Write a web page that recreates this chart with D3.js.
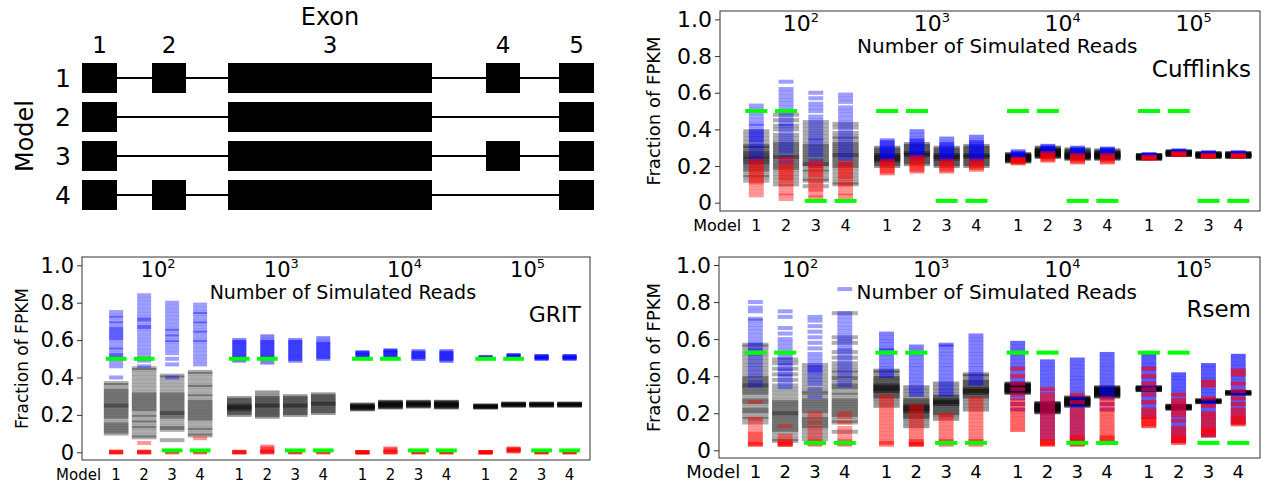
<!DOCTYPE html>
<html>
<head>
<meta charset="utf-8">
<script src="https://cdn.jsdelivr.net/npm/d3@7"></script>
<style>
body { margin: 0; background: #fff; }
text { font-family: "DejaVu Sans", sans-serif; fill: #000; }
</style>
</head>
<body>
<div id="chart"></div>
<script>
//categories
var decades = ['2', '3', '4', '5'];
var models = ['1', '2', '3', '4'];
var yTicks = [0, 0.2, 0.4, 0.6, 0.8, 1.0];

//gene diagram
var exonNames = ['1', '2', '3', '4', '5'];
var exonSpans = [[0, 35], [70, 104], [146, 350], [404, 438], [477, 512]];
var modelExons = [[0, 1, 2, 3, 4], [0, 2, 4], [0, 2, 3, 4], [0, 1, 2, 4]];

//Cufflinks, one list per column (10^2 m1..m4, 10^3 m1..m4, ...)
var cuffTruth = [0.5, 0.5, 0.01, 0.01, 0.5, 0.5, 0.01, 0.01, 0.5, 0.5, 0.01, 0.01, 0.5, 0.5, 0.01, 0.01];
var cuffBlack = [
    [0.12,0.14,0.15,0.17,0.18,0.19,0.2,0.21,0.22,0.22,0.23,0.24,0.24,0.25,0.25,0.26,0.27,0.27,0.28,0.29,0.3,0.31,0.31,0.33,0.35,0.37,0.39],
    [0.1,0.12,0.14,0.16,0.18,0.19,0.2,0.21,0.22,0.23,0.24,0.25,0.25,0.26,0.27,0.28,0.29,0.3,0.31,0.32,0.33,0.35,0.37,0.4,0.42,0.45,0.48],
    [0.09,0.12,0.13,0.15,0.17,0.18,0.2,0.21,0.21,0.22,0.23,0.24,0.25,0.26,0.27,0.28,0.29,0.3,0.31,0.32,0.34,0.36,0.38,0.4,0.42,0.44],
    [0.1,0.11,0.13,0.15,0.17,0.19,0.2,0.21,0.22,0.23,0.24,0.25,0.26,0.26,0.27,0.28,0.29,0.3,0.31,0.32,0.33,0.35,0.36,0.38,0.41,0.43],
    [0.2,0.21,0.22,0.23,0.23,0.24,0.24,0.25,0.25,0.26,0.26,0.27,0.28,0.29,0.3],
    [0.21,0.22,0.23,0.24,0.25,0.26,0.26,0.27,0.27,0.28,0.29,0.3,0.31,0.32],
    [0.2,0.21,0.22,0.23,0.24,0.24,0.25,0.25,0.26,0.26,0.27,0.28,0.29,0.3],
    [0.2,0.21,0.22,0.23,0.24,0.25,0.25,0.26,0.26,0.27,0.28,0.29,0.3,0.31],
    [0.225,0.23,0.235,0.24,0.245,0.25,0.255,0.26,0.265],
    [0.25,0.255,0.26,0.265,0.27,0.275,0.28,0.285,0.29,0.3],
    [0.24,0.245,0.25,0.255,0.26,0.265,0.27,0.28,0.29],
    [0.24,0.245,0.25,0.255,0.26,0.265,0.27,0.275,0.285],
    [0.24,0.245,0.25,0.255,0.26],
    [0.26,0.265,0.27,0.275,0.28],
    [0.25,0.255,0.26,0.265,0.27],
    [0.25,0.255,0.26,0.265,0.27]
];
var cuffBlue = [
    [0.22,0.24,0.26,0.28,0.3,0.31,0.33,0.34,0.35,0.36,0.37,0.38,0.39,0.4,0.42,0.43,0.45,0.47,0.49,0.51,0.53],
    [0.22,0.25,0.28,0.3,0.32,0.34,0.36,0.38,0.4,0.42,0.43,0.45,0.47,0.49,0.5,0.52,0.54,0.56,0.58,0.6,0.62,0.66],
    [0.2,0.23,0.26,0.28,0.3,0.32,0.34,0.35,0.37,0.39,0.41,0.43,0.45,0.47,0.5,0.52,0.54,0.57,0.6],
    [0.21,0.24,0.26,0.28,0.3,0.32,0.34,0.36,0.38,0.4,0.42,0.44,0.46,0.48,0.5,0.52,0.55,0.57,0.59],
    [0.23,0.24,0.25,0.26,0.27,0.28,0.29,0.3,0.31,0.32,0.33,0.34],
    [0.24,0.25,0.26,0.27,0.28,0.29,0.3,0.31,0.32,0.33,0.34,0.35,0.37,0.39],
    [0.23,0.24,0.25,0.26,0.27,0.28,0.29,0.3,0.31,0.32,0.33,0.35],
    [0.23,0.24,0.25,0.26,0.27,0.28,0.29,0.3,0.31,0.32,0.33,0.34,0.36],
    [0.24,0.25,0.26,0.27,0.28],
    [0.27,0.28,0.29,0.3,0.31],
    [0.25,0.26,0.27,0.28,0.29,0.3],
    [0.25,0.26,0.27,0.28,0.29,0.295],
    [0.25,0.255,0.26,0.265],
    [0.27,0.275,0.28,0.285],
    [0.26,0.265,0.27,0.275],
    [0.26,0.265,0.27,0.275]
];
var cuffRed = [
    [0.04,0.06,0.08,0.1,0.11,0.12,0.13,0.14,0.15,0.16,0.17,0.18,0.19,0.2,0.21,0.22,0.23],
    [0.02,0.04,0.05,0.07,0.09,0.1,0.12,0.13,0.14,0.15,0.16,0.17,0.18,0.19,0.2,0.21,0.23,0.24],
    [0.03,0.04,0.06,0.07,0.08,0.1,0.11,0.12,0.14,0.15,0.16,0.17,0.18,0.19,0.2,0.21,0.22],
    [0.02,0.04,0.05,0.07,0.09,0.1,0.11,0.13,0.14,0.15,0.16,0.17,0.18,0.19,0.2,0.21,0.22],
    [0.16,0.17,0.18,0.19,0.2,0.21,0.22,0.23],
    [0.17,0.18,0.19,0.2,0.21,0.22,0.23,0.24,0.25],
    [0.17,0.18,0.19,0.2,0.21,0.22,0.23],
    [0.18,0.19,0.2,0.21,0.22,0.23],
    [0.215,0.22,0.23,0.235,0.24],
    [0.23,0.24,0.25,0.26,0.27],
    [0.22,0.23,0.24,0.25,0.26],
    [0.22,0.23,0.24,0.25,0.26],
    [0.24,0.245,0.25],
    [0.26,0.265,0.27],
    [0.25,0.255,0.26],
    [0.25,0.255,0.26]
];

//GRIT
var gritTruth = [0.5, 0.5, 0.01, 0.01, 0.5, 0.5, 0.01, 0.01, 0.5, 0.5, 0.01, 0.01, 0.5, 0.5, 0.01, 0.01];
var gritBlack = [
    [0.1,0.11,0.12,0.13,0.14,0.15,0.16,0.18,0.19,0.2,0.21,0.22,0.23,0.24,0.25,0.25,0.26,0.27,0.28,0.29,0.3,0.31,0.32,0.33,0.34,0.36,0.37],
    [0.08,0.09,0.11,0.13,0.14,0.16,0.17,0.19,0.2,0.22,0.23,0.24,0.25,0.26,0.27,0.28,0.29,0.3,0.31,0.32,0.34,0.36,0.38,0.4,0.42,0.44,0.45],
    [0.065,0.12,0.13,0.14,0.16,0.18,0.19,0.2,0.21,0.21,0.22,0.23,0.24,0.25,0.26,0.27,0.28,0.29,0.3,0.31,0.32,0.34,0.36,0.38,0.4,0.41],
    [0.09,0.1,0.12,0.13,0.15,0.17,0.18,0.19,0.2,0.21,0.22,0.23,0.24,0.25,0.26,0.27,0.28,0.3,0.31,0.33,0.35,0.36,0.38,0.4,0.42,0.43],
    [0.2,0.21,0.22,0.23,0.23,0.24,0.24,0.25,0.25,0.26,0.27,0.28,0.29],
    [0.19,0.2,0.21,0.22,0.23,0.24,0.25,0.25,0.26,0.27,0.28,0.29,0.3,0.32],
    [0.2,0.21,0.22,0.23,0.24,0.25,0.25,0.26,0.27,0.28,0.29,0.3],
    [0.21,0.22,0.23,0.24,0.25,0.26,0.26,0.27,0.28,0.29,0.3,0.31],
    [0.23,0.235,0.24,0.245,0.25,0.255],
    [0.24,0.245,0.25,0.255,0.26,0.265,0.27],
    [0.245,0.25,0.255,0.26,0.265,0.27],
    [0.24,0.245,0.25,0.255,0.26,0.265,0.27],
    [0.24,0.245,0.25],
    [0.25,0.255,0.26],
    [0.25,0.255,0.26],
    [0.25,0.255,0.26]
];
var gritBlue = [
    [0.4,0.46,0.48,0.5,0.51,0.52,0.53,0.55,0.56,0.58,0.6,0.61,0.62,0.63,0.64,0.65,0.66,0.67,0.69,0.7,0.72,0.73,0.75],
    [0.46,0.49,0.5,0.52,0.54,0.56,0.58,0.6,0.62,0.64,0.66,0.67,0.68,0.7,0.71,0.72,0.74,0.76,0.78,0.8,0.82,0.84],
    [0.4,0.47,0.5,0.53,0.55,0.57,0.59,0.6,0.62,0.63,0.65,0.66,0.68,0.7,0.72,0.74,0.76,0.78,0.8],
    [0.47,0.49,0.51,0.53,0.55,0.57,0.59,0.6,0.62,0.64,0.65,0.67,0.69,0.7,0.72,0.74,0.75,0.77,0.79],
    [0.49,0.5,0.51,0.52,0.53,0.54,0.55,0.56,0.57,0.58,0.59,0.6],
    [0.48,0.5,0.51,0.52,0.53,0.54,0.55,0.56,0.57,0.58,0.59,0.6,0.62],
    [0.49,0.5,0.51,0.52,0.53,0.54,0.55,0.56,0.57,0.58,0.59,0.6],
    [0.5,0.51,0.52,0.53,0.54,0.55,0.56,0.57,0.58,0.59,0.61],
    [0.51,0.52,0.53,0.535],
    [0.51,0.52,0.53,0.54,0.545],
    [0.5,0.51,0.52,0.53,0.54],
    [0.49,0.5,0.51,0.52,0.53,0.54],
    [0.505,0.51],
    [0.51,0.515,0.52],
    [0.5,0.505,0.51,0.515],
    [0.5,0.505,0.51,0.515]
];
//many runs sit exactly at zero
var gritRed = [
    [0, 0, 0, 0, 0.005], [0, 0, 0, 0, 0.005, 0.05], [0, 0, 0.005], [0, 0, 0.005, 0.075],
    [0, 0, 0, 0.003], [0, 0, 0.005, 0.01, 0.02, 0.03], [0, 0, 0.005], [0, 0, 0.005],
    [0, 0, 0, 0], [0, 0, 0.01, 0.02], [0, 0, 0.005], [0, 0, 0.005],
    [0, 0, 0, 0], [0.005, 0.01, 0.015, 0.02], [0, 0, 0.005], [0, 0, 0.005]
];

//Rsem
var rsemTruth = [0.527, 0.527, 0.04, 0.04, 0.527, 0.527, 0.04, 0.04, 0.527, 0.527, 0.04, 0.04, 0.527, 0.527, 0.04, 0.04];
var rsemBlack = [
    [0.15,0.17,0.18,0.2,0.21,0.22,0.23,0.25,0.26,0.27,0.28,0.3,0.31,0.32,0.33,0.34,0.35,0.35,0.36,0.37,0.38,0.39,0.4,0.42,0.44,0.46,0.48,0.5,0.52,0.54,0.56,0.57],
    [0.05,0.06,0.08,0.1,0.11,0.12,0.13,0.14,0.15,0.16,0.17,0.18,0.19,0.2,0.2,0.21,0.22,0.23,0.24,0.25,0.26,0.27,0.29,0.31,0.33,0.35,0.38,0.41,0.44,0.47,0.49],
    [0.06,0.08,0.1,0.12,0.13,0.14,0.15,0.16,0.17,0.18,0.2,0.21,0.22,0.23,0.24,0.25,0.26,0.27,0.28,0.3,0.31,0.32,0.34,0.36,0.38,0.4,0.42,0.44,0.46],
    [0.1,0.15,0.16,0.18,0.19,0.2,0.21,0.22,0.23,0.24,0.25,0.26,0.27,0.28,0.3,0.31,0.33,0.34,0.35,0.36,0.38,0.39,0.4,0.42,0.43,0.45,0.47,0.5,0.53,0.58,0.61,0.74],
    [0.24,0.26,0.28,0.29,0.3,0.31,0.32,0.32,0.33,0.33,0.34,0.34,0.35,0.35,0.36,0.37,0.38,0.39,0.4,0.42,0.43],
    [0.13,0.15,0.17,0.18,0.19,0.2,0.21,0.21,0.22,0.22,0.23,0.23,0.24,0.24,0.25,0.26,0.27,0.28,0.3,0.32,0.34],
    [0.17,0.19,0.2,0.21,0.22,0.23,0.24,0.25,0.25,0.26,0.26,0.27,0.27,0.28,0.29,0.3,0.32,0.34,0.36],
    [0.22,0.24,0.26,0.28,0.29,0.3,0.31,0.31,0.32,0.32,0.33,0.33,0.34,0.35,0.36,0.37,0.38,0.4,0.41],
    [0.31,0.315,0.32,0.325,0.33,0.335,0.34,0.345,0.35,0.355,0.36],
    [0.205,0.21,0.215,0.22,0.225,0.23,0.235,0.24,0.245,0.25,0.255],
    [0.24,0.245,0.25,0.255,0.26,0.265,0.27,0.275,0.28,0.285],
    [0.29,0.295,0.3,0.305,0.31,0.315,0.32,0.325,0.33,0.335,0.34],
    [0.325,0.33,0.335,0.34],
    [0.225,0.23,0.235,0.24],
    [0.26,0.265,0.27],
    [0.305,0.31,0.315]
];
var rsemBlue = [
    [0.35,0.37,0.4,0.42,0.44,0.46,0.48,0.5,0.52,0.54,0.55,0.57,0.58,0.6,0.62,0.64,0.66,0.68,0.7,0.71,0.75,0.77,0.8],
    [0.34,0.36,0.38,0.4,0.41,0.43,0.44,0.46,0.47,0.49,0.5,0.52,0.54,0.56,0.58,0.6,0.63,0.66,0.72,0.75],
    [0.29,0.33,0.36,0.38,0.4,0.42,0.43,0.44,0.45,0.46,0.48,0.5,0.52,0.55,0.58,0.61,0.64,0.67,0.7,0.72],
    [0.35,0.37,0.4,0.42,0.44,0.46,0.48,0.5,0.52,0.54,0.55,0.57,0.59,0.6,0.62,0.64,0.66,0.68,0.7,0.72,0.74,0.87],
    [0.4,0.42,0.44,0.46,0.48,0.5,0.52,0.54,0.55,0.57,0.59,0.61,0.63],
    [0.3,0.32,0.34,0.36,0.38,0.4,0.42,0.44,0.46,0.48,0.5,0.52,0.54,0.56],
    [0.3,0.32,0.34,0.36,0.38,0.4,0.42,0.44,0.46,0.48,0.5,0.52,0.54,0.56,0.57],
    [0.36,0.38,0.4,0.42,0.44,0.46,0.48,0.5,0.52,0.54,0.56,0.58,0.6,0.62],
    [0.22,0.25,0.28,0.3,0.33,0.36,0.38,0.4,0.42,0.44,0.46,0.48,0.5,0.52,0.54,0.56,0.58],
    [0.06,0.08,0.1,0.12,0.14,0.16,0.18,0.2,0.22,0.24,0.26,0.28,0.3,0.32,0.34,0.36,0.38,0.4,0.42,0.44,0.46,0.48],
    [0.05,0.07,0.09,0.11,0.13,0.15,0.17,0.19,0.21,0.23,0.25,0.27,0.29,0.31,0.33,0.35,0.37,0.39,0.41,0.43,0.45,0.47,0.49],
    [0.22,0.25,0.28,0.3,0.32,0.34,0.36,0.38,0.4,0.42,0.44,0.46,0.48,0.5,0.52],
    [0.18,0.2,0.22,0.24,0.26,0.28,0.3,0.32,0.34,0.36,0.38,0.4,0.42,0.44,0.46,0.48,0.5,0.52],
    [0.05,0.07,0.09,0.11,0.13,0.15,0.17,0.19,0.21,0.23,0.25,0.27,0.29,0.31,0.33,0.35,0.37,0.39,0.41],
    [0.08,0.1,0.12,0.14,0.16,0.18,0.2,0.22,0.24,0.26,0.28,0.3,0.32,0.34,0.36,0.38,0.4,0.42,0.44,0.46],
    [0.15,0.17,0.19,0.21,0.23,0.25,0.27,0.29,0.31,0.33,0.35,0.37,0.39,0.41,0.43,0.45,0.47,0.49,0.51]
];
var rsemRed = [
    [0.03,0.03,0.035,0.04,0.05,0.06,0.07,0.08,0.09,0.1,0.12,0.14,0.16,0.17,0.26],
    [0.03,0.03,0.03,0.035,0.04,0.04,0.05,0.06,0.08,0.13],
    [0.03,0.035,0.04,0.05,0.06,0.08,0.1,0.12,0.15,0.18,0.2],
    [0.03,0.035,0.04,0.05,0.06,0.08,0.1,0.12,0.15,0.18,0.2],
    [0.03,0.04,0.05,0.07,0.09,0.11,0.13,0.15,0.17,0.19,0.21,0.23,0.25,0.27,0.29],
    [0.03,0.03,0.035,0.04,0.05,0.06,0.08,0.1,0.12,0.14,0.16,0.18,0.2,0.22,0.24],
    [0.03,0.04,0.05,0.06,0.08,0.1,0.12,0.14,0.16,0.18,0.19],
    [0.03,0.04,0.05,0.06,0.08,0.1,0.12,0.14,0.16,0.18,0.2,0.22,0.24,0.26,0.28],
    [0.11,0.13,0.15,0.17,0.19,0.21,0.23,0.25,0.27,0.3,0.33,0.36,0.4,0.44],
    [0.03,0.035,0.04,0.05,0.06,0.08,0.1,0.12,0.14,0.16,0.18,0.2,0.22,0.24,0.26,0.28,0.3,0.33],
    [0.03,0.035,0.04,0.05,0.06,0.07,0.08,0.1,0.12,0.14,0.16,0.18,0.2,0.22,0.26,0.3],
    [0.04,0.05,0.06,0.07,0.08,0.1,0.12,0.14,0.16,0.18,0.2,0.22,0.24,0.26,0.28],
    [0.13,0.14,0.15,0.16,0.17,0.18,0.2,0.22,0.26,0.3,0.33,0.36,0.4,0.44],
    [0.04,0.05,0.06,0.07,0.08,0.1,0.12,0.16,0.19,0.21,0.23,0.25,0.27,0.3],
    [0.08,0.09,0.1,0.11,0.12,0.14,0.16,0.18,0.2,0.24,0.28,0.35,0.37],
    [0.14,0.15,0.16,0.17,0.18,0.2,0.22,0.25,0.28,0.32,0.36,0.41,0.43]
];

//Canvas
var width = 1265;
var height = 484;

var svg = d3
    .select('#chart')
    .append('svg')
    .attr('width', width)
    .attr('height', height);

svg.append('rect').attr('width', width).attr('height', height).attr('fill', '#fff');

//soften the dashes a little, like the rescaled original
var defs = svg.append('defs');
defs.append('filter')
    .attr('id', 'soft')
    .attr('x', '-5%').attr('y', '-5%').attr('width', '110%').attr('height', '110%')
    .append('feGaussianBlur')
    .attr('stdDeviation', '0.4 0.7');

//Gene model diagram (top left)
var geneX = d3.scaleLinear().domain([0, 512]).range([82, 594]);
var geneY = d3.scaleBand().domain([0, 1, 2, 3]).range([63, 210]).paddingInner(9 / 39);

var gene = svg.append('g').attr('class', 'gene');

gene.append('text')
    .attr('x', 330)
    .attr('y', 25)
    .attr('text-anchor', 'middle')
    .style('font-size', '24px')
    .text('Exon');

gene.selectAll('.exonLabel')
    .data(exonSpans)
    .enter()
    .append('text')
    .attr('class', 'exonLabel')
    .attr('x', function(d) { return geneX((d[0] + d[1]) / 2); })
    .attr('y', 53)
    .attr('text-anchor', 'middle')
    .style('font-size', '23px')
    .text(function(d, i) { return exonNames[i]; });

gene.append('text')
    .attr('transform', 'translate(33,136) rotate(-90)')
    .attr('text-anchor', 'middle')
    .style('font-size', '24px')
    .text('Model');

modelExons.forEach(function(ex, row) {
    var top = geneY(row);
    var mid = top + geneY.bandwidth() / 2;

    gene.append('text')
        .attr('x', 63)
        .attr('y', mid + 9)
        .attr('text-anchor', 'middle')
        .style('font-size', '25px')
        .text(models[row]);

    //introns
    for (var k = 0; k < ex.length - 1; k++) {
        gene.append('line')
            .attr('x1', geneX(exonSpans[ex[k]][1]))
            .attr('x2', geneX(exonSpans[ex[k + 1]][0]))
            .attr('y1', mid)
            .attr('y2', mid)
            .attr('stroke', '#000')
            .attr('stroke-width', 2);
    }

    //exons
    gene.selectAll('.exon' + row)
        .data(ex)
        .enter()
        .append('rect')
        .attr('x', function(e) { return geneX(exonSpans[e][0]); })
        .attr('width', function(e) { return geneX(exonSpans[e][1]) - geneX(exonSpans[e][0]); })
        .attr('y', top)
        .attr('height', geneY.bandwidth())
        .attr('fill', '#000');
});

//Strip plot panels
//alpha per decade for each series
var seriesStyle = [
    { key: 'black', color: '#000', w: 0.88, alpha: [0.32, 0.4, 0.55, 0.75] },
    { key: 'blue', color: '#0000ff', w: 0.5, alpha: [0.38, 0.5, 0.6, 0.65] },
    { key: 'red', color: '#ff0000', w: 0.5, alpha: [0.4, 0.5, 0.6, 0.65] }
];

function colPos(c) {
    return Math.floor(c / 4) * 4.4 + (c % 4) + 1;
}

function drawPanel(p) {
    var g = svg.append('g').attr('class', 'panel');

    var x = d3.scaleLinear().domain([-0.22, 17.93]).range([p.left, p.right]);
    var y = d3.scaleLinear().domain([0, 1]).range([p.y0, p.y1]);

    //dashes
    var marks = g.append('g').attr('filter', 'url(#soft)');
    seriesStyle.forEach(function(s) {
        var recs = [];
        p[s.key].forEach(function(vals, c) {
            vals.forEach(function(v) { recs.push({ c: c, v: v }); });
        });
        marks.append('g')
            .selectAll('line')
            .data(recs)
            .enter()
            .append('line')
            .attr('x1', function(d) { return x(colPos(d.c) - s.w / 2); })
            .attr('x2', function(d) { return x(colPos(d.c) + s.w / 2); })
            .attr('y1', function(d) { return y(d.v); })
            .attr('y2', function(d) { return y(d.v); })
            .attr('stroke', s.color)
            .attr('stroke-width', 4)
            .attr('stroke-opacity', function(d) { return s.alpha[Math.floor(d.c / 4)]; });
    });

    //truth
    g.append('g')
        .selectAll('line')
        .data(p.truth)
        .enter()
        .append('line')
        .attr('x1', function(d, c) { return x(colPos(c) - 0.37); })
        .attr('x2', function(d, c) { return x(colPos(c) + 0.37); })
        .attr('y1', function(d) { return y(d); })
        .attr('y2', function(d) { return y(d); })
        .attr('stroke', '#00ff00')
        .attr('stroke-width', 4);

    //frame
    g.append('rect')
        .attr('x', p.left)
        .attr('y', p.top)
        .attr('width', p.right - p.left)
        .attr('height', p.bottom - p.top)
        .attr('fill', 'none')
        .attr('stroke', '#333')
        .attr('stroke-width', 1);

    //y axis
    var yAxis = d3.axisLeft(y)
        .tickValues(yTicks)
        .tickSize(5)
        .tickPadding(3)
        .tickFormat(function(d) { return d === 0 ? '0' : d3.format('.1f')(d); });

    var ya = g.append('g')
        .attr('transform', 'translate(' + p.left + ',0)')
        .call(yAxis);
    ya.select('.domain').remove();
    ya.selectAll('line').attr('stroke', '#333');
    ya.selectAll('text')
        .style('font-size', p.tickFont + 'px')
        .style('font-family', '"DejaVu Sans", sans-serif');

    g.append('text')
        .attr('transform', 'translate(' + p.ylabX + ',' + ((p.top + p.bottom) / 2) + ') rotate(-90)')
        .attr('text-anchor', 'middle')
        .style('font-size', p.ylabFont + 'px')
        .text('Fraction of FPKM');

    //model labels under each column
    g.selectAll('.mLabel')
        .data(d3.range(16))
        .enter()
        .append('text')
        .attr('class', 'mLabel')
        .attr('x', function(c) { return x(colPos(c)); })
        .attr('y', p.bottom + 20)
        .attr('text-anchor', 'middle')
        .style('font-size', p.modelFont + 'px')
        .text(function(c) { return models[c % 4]; });

    g.append('text')
        .attr('x', x(1) - 15)
        .attr('y', p.bottom + 20)
        .attr('text-anchor', 'end')
        .style('font-size', p.modelFont + 'px')
        .text('Model');

    //decade labels
    var dl = g.selectAll('.dLabel')
        .data(decades)
        .enter()
        .append('text')
        .attr('class', 'dLabel')
        .attr('x', function(d, i) { return x(i * 4.4 + 2.5); })
        .attr('y', p.top + 20)
        .attr('text-anchor', 'middle')
        .style('font-size', p.decFont + 'px')
        .text('10');
    dl.append('tspan')
        .attr('dy', -9)
        .style('font-size', '13px')
        .text(function(d) { return d; });

    g.append('text')
        .attr('x', x(9.1))
        .attr('y', p.top + 42)
        .attr('text-anchor', 'middle')
        .style('font-size', p.nsrFont + 'px')
        .text('Number of Simulated Reads');

    g.append('text')
        .attr('x', p.right - 9)
        .attr('y', p.top + p.titleDy)
        .attr('text-anchor', 'end')
        .style('font-size', p.titleFont + 'px')
        .text(p.title);
}

drawPanel({
    title: 'Cufflinks', left: 720, right: 1260, top: 11, bottom: 211, y0: 202.7, y1: 19.4,
    ylabX: 660, titleDy: 66, tickFont: 22, ylabFont: 18, modelFont: 16, decFont: 22, nsrFont: 20, titleFont: 23,
    truth: cuffTruth, black: cuffBlack, blue: cuffBlue, red: cuffRed
});

drawPanel({
    title: 'GRIT', left: 82, right: 590, top: 257, bottom: 460, y0: 452.3, y1: 265.3,
    ylabX: 28, titleDy: 65, tickFont: 21, ylabFont: 17, modelFont: 15, decFont: 21, nsrFont: 19, titleFont: 22,
    truth: gritTruth, black: gritBlack, blue: gritBlue, red: gritRed
});

drawPanel({
    title: 'Rsem', left: 719, right: 1260, top: 257, bottom: 458, y0: 450.3, y1: 265,
    ylabX: 660, titleDy: 60, tickFont: 22, ylabFont: 18, modelFont: 18, decFont: 22, nsrFont: 20, titleFont: 23,
    truth: rsemTruth, black: rsemBlack, blue: rsemBlue, red: rsemRed
});
</script>
</body>
</html>
